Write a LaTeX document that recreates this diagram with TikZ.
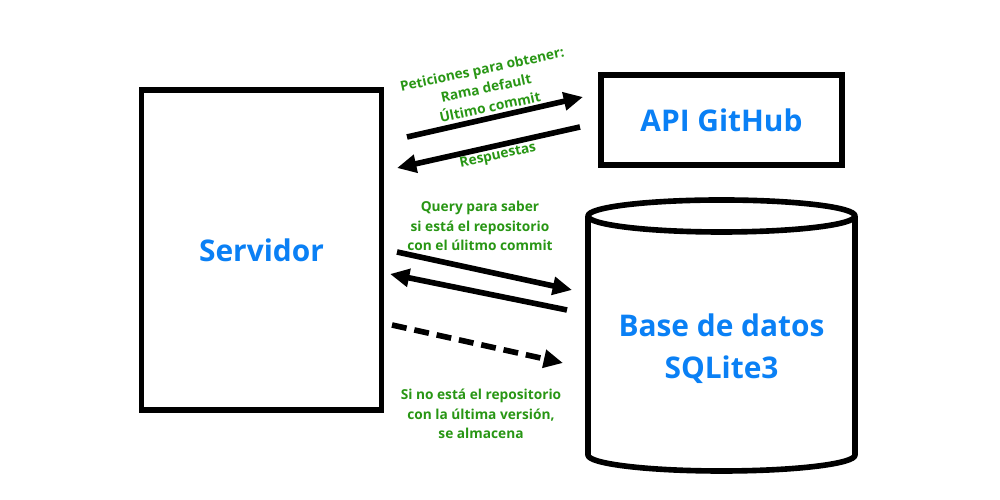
\documentclass[tikz,border=0pt]{standalone}
\usepackage{fontspec}
\setmainfont{Open Sans}
\usepackage{xcolor}
\usetikzlibrary{shapes,arrows.meta,positioning}

\definecolor{titleblue}{RGB}{10,128,245}
\definecolor{notegreen}{RGB}{40,150,20}

\begin{document}
\begin{tikzpicture}
    \tikzstyle{box} = [rectangle, draw, line width=3.2pt, fill=white, text=titleblue, font=\bfseries\fontsize{17}{24}\selectfont]
    \tikzstyle{dbshape} = [draw, line width=3.2pt, line join=round]
    \tikzstyle{title} = [text=titleblue, align=center, font=\bfseries\fontsize{17}{24}\selectfont]
    \tikzstyle{note} = [text=notegreen, align=center, font=\bfseries\fontsize{7.8}{11}\selectfont]
    \tikzstyle{arrow} = [line width=3.2pt, -{Triangle[length=11pt, width=10pt]}]

    \useasboundingbox (0,0) rectangle (20,10);

    % Components
    \node [box, minimum width=4.8cm, minimum height=6.4cm] (srv) at (5.23,5.0) {Servidor};
    \node [box, minimum width=4.82cm, minimum height=1.8cm] (api) at (14.43,7.6) {API GitHub};

    % Database cylinder
    \draw [dbshape] (11.76,5.68) -- (11.76,0.9) arc[start angle=180, end angle=360, x radius=2.67, y radius=0.32] -- (17.1,5.68);
    \draw [dbshape] (14.43,5.68) ellipse [x radius=2.67, y radius=0.32];
    \node [title] (dbtext) at (14.43,3.02) {Base de datos\\SQLite3};

    % Arrow ends
    \coordinate (reqS) at (8.14,7.26);
    \coordinate (reqE) at (11.66,8.06);
    \coordinate (resS) at (11.6,7.46);
    \coordinate (resE) at (7.94,6.64);
    \coordinate (qS) at (7.94,4.96);
    \coordinate (qE) at (11.44,4.2);
    \coordinate (ansS) at (11.34,3.8);
    \coordinate (ansE) at (7.8,4.52);
    \coordinate (stS) at (7.84,3.5);
    \coordinate (stE) at (11.26,2.74);

    % Arrows
    \draw [arrow] (reqS) -- (reqE);
    \draw [arrow] (resS) -- (resE);
    \draw [arrow] (qS) -- (qE);
    \draw [arrow] (ansS) -- (ansE);
    \draw [arrow, dash pattern=on 8.5pt off 4.5pt] (stS) -- (stE);

    % Labels
    \node [note, rotate=12] (reqlabel) at (9.72,8.24) {Peticiones para obtener:\\Rama default\\Último commit};
    \node [note, rotate=12] (reslabel) at (9.96,6.88) {Respuestas};
    \node [note] (qlabel) at (9.6,5.48) {Query para saber\\si está el repositorio\\con el úlitmo commit};
    \node [note] (stlabel) at (9.62,1.72) {Si no está el repositorio\\con la última versión,\\se almacena};
\end{tikzpicture}
\end{document}
